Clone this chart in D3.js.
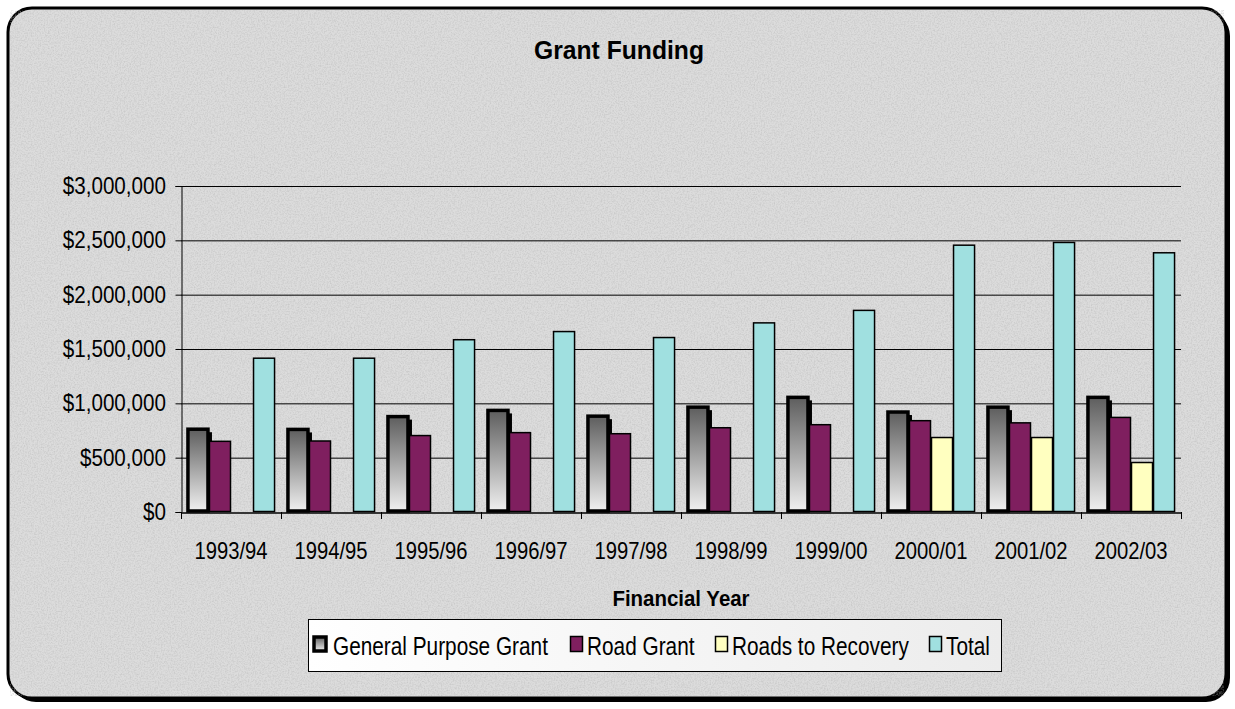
<!DOCTYPE html>
<html lang="en">
<head>
  <meta charset="UTF-8">
  <title>Grant Funding</title>
  <script src="https://d3js.org/d3.v7.min.js"></script>
  <style>
    body { margin: 0; background: #fff; }
    text { font-family: "Liberation Sans", Arial, sans-serif; fill: #000; }
  </style>
</head>
<body>
  <svg width="1235" height="709"></svg>

  <script>
    // data
    const years = ["1993/94", "1994/95", "1995/96", "1996/97", "1997/98",
                   "1998/99", "1999/00", "2000/01", "2001/02", "2002/03"];
    const generalPurpose = [762000, 760000, 878000, 935000, 882000, 965000, 1055000, 920000, 965000, 1055000];
    const roadGrant      = [655000, 658000, 708000, 735000, 725000, 780000, 808000, 845000, 825000, 875000];
    const roadsRecovery  = [0, 0, 0, 0, 0, 0, 0, 690000, 690000, 460000];
    const total          = [1420000, 1420000, 1590000, 1665000, 1610000, 1745000, 1860000, 2460000, 2485000, 2390000];
    const yTicks = [0, 500000, 1000000, 1500000, 2000000, 2500000, 3000000];
    const seriesNames = ["General Purpose Grant", "Road Grant", "Roads to Recovery", "Total"];
    const seriesValues = [generalPurpose, roadGrant, roadsRecovery, total];
    const seriesFill = ["url(#gpgGrad)", "#7f1f5f", "#ffffc0", "#a0e0e0"];

    const svg = d3.select("svg");
    const defs = svg.append("defs");

    // gradient for general purpose grant bars
    const gg = defs.append("linearGradient").attr("id", "gpgGrad")
      .attr("x1", 0).attr("y1", 0).attr("x2", 0).attr("y2", 1);
    gg.append("stop").attr("offset", "0%").attr("stop-color", "#5e5e5e");
    gg.append("stop").attr("offset", "100%").attr("stop-color", "#f0f0f0");

    const lg = defs.append("linearGradient").attr("id", "legGrad")
      .attr("x1", 0).attr("y1", 0).attr("x2", 1).attr("y2", 0);
    lg.append("stop").attr("offset", "0%").attr("stop-color", "#ffffff");
    lg.append("stop").attr("offset", "100%").attr("stop-color", "#ececec");

    // speckled paper texture
    const f = defs.append("filter").attr("id", "grain")
      .attr("x", 0).attr("y", 0).attr("width", "100%").attr("height", "100%");
    f.append("feTurbulence").attr("type", "fractalNoise")
      .attr("baseFrequency", "0.7").attr("numOctaves", 3).attr("seed", 4).attr("result", "n");
    f.append("feColorMatrix").attr("in", "n").attr("type", "matrix")
      .attr("values", "0 0 0 0 0.5  0 0 0 0 0.5  0 0 0 0 0.5  0 0 0 -2.2 1.35");

    // frame with shadow
    svg.append("rect").attr("x", 12).attr("y", 12).attr("width", 1218).attr("height", 690)
      .attr("rx", 24).attr("fill", "#000");
    svg.append("rect").attr("x", 8).attr("y", 8).attr("width", 1218).attr("height", 690)
      .attr("rx", 24).attr("fill", "#dcdcdc").attr("stroke", "#000").attr("stroke-width", 3);
    svg.append("rect").attr("x", 10).attr("y", 10).attr("width", 1214).attr("height", 686)
      .attr("rx", 22).attr("fill", "#fff").attr("filter", "url(#grain)").attr("opacity", 0.55);

    // squeezed text helper (the chart uses a narrow face)
    function label(g, x, y, str, size, sx, anchor, bold) {
      return g.append("text")
        .attr("transform", `translate(${x},${y}) scale(${sx},1)`)
        .attr("text-anchor", anchor)
        .attr("font-size", size)
        .attr("font-weight", bold ? "bold" : "normal")
        .text(str);
    }

    const plot = { left: 181, right: 1181, top: 186, bottom: 512 };

    const x0 = d3.scaleBand().domain(years).range([plot.left, plot.right]).padding(0);
    const x1 = d3.scaleBand().domain(seriesNames).range([0, x0.bandwidth()])
      .paddingInner(0).paddingOuter(0.27);
    const y = d3.scaleLinear().domain([0, 3000000]).range([plot.bottom, plot.top]);

    // gridlines
    svg.append("g").selectAll("line").data(yTicks.slice(1)).join("line")
      .attr("x1", plot.left).attr("x2", plot.right)
      .attr("y1", d => y(d) + 0.5).attr("y2", d => y(d) + 0.5)
      .attr("stroke", "#000").attr("stroke-width", 1);

    // y axis
    const yAxis = svg.append("g").attr("transform", `translate(${plot.left + 0.5},0)`)
      .call(d3.axisLeft(y).tickValues(yTicks).tickSize(6).tickFormat(""));
    yAxis.select(".domain").attr("stroke", "#000");
    yAxis.selectAll(".tick line").attr("stroke", "#000");
    const fmt = d3.format("$,.0f");
    yTicks.forEach(v => label(svg, 166, y(v) + 8, fmt(v), 24, 0.86, "end", false));

    // bars
    const groups = svg.append("g").selectAll("g").data(years).join("g")
      .attr("transform", d => `translate(${x0(d)},0)`);

    groups.each(function(yr, i) {
      const g = d3.select(this);
      const bw = x1.bandwidth();
      // general purpose: shadow then gradient bar with heavy outline
      const v0 = generalPurpose[i];
      g.append("rect")
        .attr("x", x1(seriesNames[0]) + 3).attr("y", y(v0) + 3)
        .attr("width", bw).attr("height", y(0) - y(v0) - 3).attr("fill", "#000");
      g.append("rect")
        .attr("x", x1(seriesNames[0]) + 1).attr("y", y(v0))
        .attr("width", bw - 2).attr("height", y(0) - y(v0) - 1)
        .attr("fill", seriesFill[0]).attr("stroke", "#000").attr("stroke-width", 3.5);
      for (let s = 1; s < 4; s++) {
        const v = seriesValues[s][i];
        if (!v) continue;
        g.append("rect")
          .attr("x", x1(seriesNames[s]) + 0.5).attr("y", y(v) + 0.5)
          .attr("width", bw - 1).attr("height", y(0) - y(v) - 1)
          .attr("fill", seriesFill[s]).attr("stroke", "#000").attr("stroke-width", 1.5);
      }
    });

    // x axis
    const xAxis = svg.append("g").attr("transform", `translate(0,${plot.bottom + 0.5})`)
      .call(d3.axisBottom(x0).tickSize(0).tickFormat(""));
    xAxis.select(".domain").attr("stroke", "#000").attr("stroke-width", 1.5);
    svg.append("g").selectAll("line")
      .data(years.map(d => x0(d)).concat([plot.right])).join("line")
      .attr("x1", d => d + 0.5).attr("x2", d => d + 0.5)
      .attr("y1", plot.bottom).attr("y2", plot.bottom + 7)
      .attr("stroke", "#000");
    years.forEach(yr => label(svg, x0(yr) + x0.bandwidth() / 2, 559, yr, 23, 0.88, "middle", false));

    // titles
    label(svg, 619, 59, "Grant Funding", 26, 0.95, "middle", true);
    label(svg, 681, 606, "Financial Year", 22, 0.93, "middle", true);

    // legend
    const leg = svg.append("g");
    leg.append("rect").attr("x", 308.5).attr("y", 619.5).attr("width", 693).attr("height", 52)
      .attr("fill", "url(#legGrad)").attr("stroke", "#000");
    const legX = [313, 570, 715, 929];
    seriesNames.forEach((name, i) => {
      if (i === 0) {
        leg.append("rect").attr("x", legX[i] + 1).attr("y", 637).attr("width", 12).attr("height", 14)
          .attr("fill", seriesFill[i]).attr("stroke", "#000").attr("stroke-width", 3.5);
      } else {
        leg.append("rect").attr("x", legX[i] + 0.5).attr("y", 636.5).attr("width", 12).attr("height", 15)
          .attr("fill", seriesFill[i]).attr("stroke", "#000").attr("stroke-width", 1.5);
      }
      label(leg, legX[i] + (i === 0 ? 20 : 17), 655, name, 26, 0.8, "start", false);
    });
  </script>
</body>
</html>
